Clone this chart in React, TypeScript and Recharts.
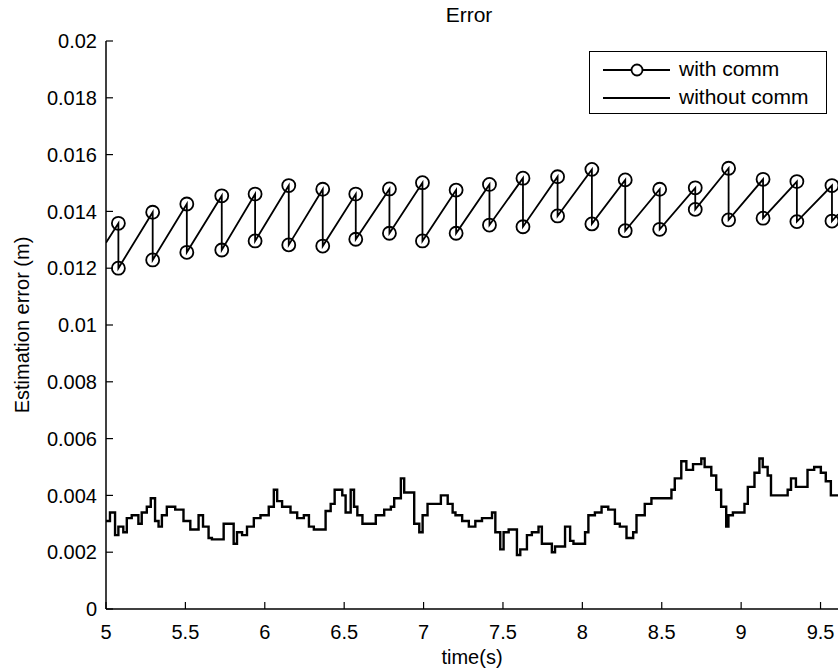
import React from "react";
import { LineChart, Line, XAxis, YAxis, Legend } from "recharts";

// sample instants of the "with comm" estimator (s) and value just before / after each update (m)
const commTimes = [5.078, 5.294, 5.509, 5.729, 5.939, 6.151, 6.365, 6.573, 6.785, 6.993, 7.205, 7.415, 7.626, 7.844, 8.06, 8.27, 8.487, 8.711, 8.921, 9.138, 9.351, 9.572];
const commPeak = [0.01358, 0.01397, 0.01426, 0.01455, 0.01461, 0.01491, 0.01478, 0.01461, 0.01479, 0.01501, 0.01475, 0.01495, 0.01517, 0.01522, 0.01548, 0.01511, 0.01478, 0.01483, 0.01552, 0.01513, 0.01505, 0.01491];
const commTrough = [0.012, 0.01229, 0.01256, 0.01264, 0.01296, 0.01282, 0.01278, 0.01302, 0.01323, 0.01296, 0.01323, 0.01352, 0.01346, 0.01384, 0.01356, 0.01332, 0.01337, 0.01407, 0.0137, 0.01376, 0.01364, 0.01366];
const commEdges = [[5.0, 0.0129], [9.61, 0.0139]];

// "without comm" staircase: step start times and levels
const noCommTimes = [
  5.0, 5.025, 5.057, 5.078, 5.109, 5.131, 5.162, 5.204, 5.225, 5.257, 5.282, 5.309, 5.331, 5.352, 5.383, 5.436,
  5.488, 5.531, 5.583, 5.611, 5.646, 5.667, 5.741, 5.804, 5.825, 5.857, 5.888, 5.931, 5.973, 6.025, 6.057, 6.078,
  6.109, 6.162, 6.204, 6.246, 6.278, 6.309, 6.383, 6.415, 6.44, 6.488, 6.509, 6.541, 6.562, 6.583, 6.615, 6.699,
  6.752, 6.794, 6.815, 6.857, 6.878, 6.941, 6.973, 6.994, 7.025, 7.109, 7.152, 7.183, 7.201, 7.243, 7.285, 7.326,
  7.368, 7.431, 7.452, 7.483, 7.504, 7.536, 7.588, 7.609, 7.651, 7.682, 7.724, 7.745, 7.808, 7.828, 7.891, 7.923,
  7.944, 8.017, 8.038, 8.079, 8.121, 8.163, 8.205, 8.236, 8.278, 8.32, 8.341, 8.393, 8.435, 8.561, 8.582, 8.623,
  8.655, 8.697, 8.749, 8.77, 8.812, 8.843, 8.874, 8.906, 8.92, 8.948, 9.021, 9.042, 9.084, 9.115, 9.136, 9.167,
  9.188, 9.293, 9.314, 9.345, 9.418, 9.46, 9.502, 9.533, 9.565, 9.61,
];
const noCommValues = [
  0.0031, 0.0034, 0.0026, 0.0029, 0.0027, 0.0032, 0.0033, 0.003, 0.0034, 0.0036, 0.0039, 0.0031, 0.0029, 0.0033, 0.0036, 0.0035,
  0.0031, 0.0028, 0.0033, 0.0029, 0.0025, 0.00245, 0.003, 0.0023, 0.0027, 0.0026, 0.0029, 0.0032, 0.0033, 0.0036, 0.0042, 0.0038,
  0.0036, 0.0034, 0.0032, 0.0033, 0.0029, 0.0028, 0.00345, 0.0037, 0.0042, 0.004, 0.0034, 0.0042, 0.0036, 0.0033, 0.003, 0.0033,
  0.0035, 0.0036, 0.0039, 0.0046, 0.0041, 0.003, 0.0027, 0.0033, 0.0037, 0.004, 0.0037, 0.0034, 0.0033, 0.0031, 0.0029, 0.0031,
  0.0032, 0.0034, 0.0027, 0.0021, 0.0027, 0.0028, 0.0019, 0.0021, 0.0026, 0.0027, 0.0029, 0.0023, 0.002, 0.0022, 0.0029, 0.0024,
  0.0023, 0.0027, 0.0033, 0.0034, 0.0036, 0.0035, 0.003, 0.0029, 0.0025, 0.0027, 0.0033, 0.0037, 0.0039, 0.0042, 0.0046, 0.0052,
  0.0049, 0.0051, 0.0053, 0.005, 0.0047, 0.0042, 0.0036, 0.0029, 0.0033, 0.0034, 0.0037, 0.0043, 0.0048, 0.0053, 0.005, 0.0047,
  0.004, 0.0042, 0.0046, 0.0043, 0.0049, 0.005, 0.0048, 0.0045, 0.004, 0.004,
];

const xTicks = [5, 5.5, 6, 6.5, 7, 7.5, 8, 8.5, 9, 9.5];
const yTicks = [0, 0.002, 0.004, 0.006, 0.008, 0.01, 0.012, 0.014, 0.016, 0.018, 0.02];

const FONT = "'Liberation Sans', Arial, Helvetica, sans-serif";

const commData = [
  { t: commEdges[0][0], v: commEdges[0][1], mark: false },
  ...commTimes.flatMap((t, i) => [
    { t, v: commPeak[i], mark: true },
    { t, v: commTrough[i], mark: true },
  ]),
  { t: commEdges[1][0], v: commEdges[1][1], mark: false },
];
const noCommData = noCommTimes.map((t, i) => ({ t, v: noCommValues[i] }));

const fmtY = (v: number) => String(Number(v.toFixed(3)));

function CircleDot(props: any) {
  const { cx, cy, payload, index } = props;
  if (!payload || !payload.mark) return <g key={`d${index}`} />;
  return <circle key={`d${index}`} cx={cx} cy={cy} r={6.5} fill="none" stroke="#000" strokeWidth={1.8} />;
}

function LegendBox() {
  return (
    <div
      style={{
        width: 236,
        height: 61,
        border: "1px solid #000",
        background: "#fff",
        fontFamily: FONT,
        fontSize: 21,
        color: "#000",
        position: "relative",
      }}
    >
      <svg width={80} height={61} style={{ position: "absolute", left: 0, top: 0 }}>
        <line x1={13} x2={82} y1={18} y2={18} stroke="#000" strokeWidth={2} />
        <circle cx={47} cy={18} r={5.5} fill="#fff" stroke="#000" strokeWidth={1.8} />
        <line x1={13} x2={82} y1={46} y2={46} stroke="#000" strokeWidth={2} />
      </svg>
      <div style={{ position: "absolute", left: 89, top: 5, lineHeight: "24px" }}>with comm</div>
      <div style={{ position: "absolute", left: 89, top: 33, lineHeight: "24px" }}>without comm</div>
    </div>
  );
}

export default function App() {
  return (
    <div style={{ position: "absolute", left: 0, top: 0, width: 838, height: 671, background: "#fff" }}>
      <div
        style={{
          position: "absolute",
          left: 0,
          width: 938,
          top: 3,
          textAlign: "center",
          fontFamily: FONT,
          fontSize: 21,
          color: "#000",
        }}
      >
        Error
      </div>
      <LineChart width={838} height={671} margin={{ top: 41, right: 0, left: 0, bottom: 0 }}>
        <XAxis
          type="number"
          dataKey="t"
          domain={[5, 9.61]}
          allowDataOverflow
          ticks={xTicks}
          tickFormatter={(v) => String(v)}
          height={62}
          tickSize={-7}
          tickMargin={23}
          axisLine={{ stroke: "#000", strokeWidth: 1.5 }}
          tickLine={{ stroke: "#000", strokeWidth: 1.2 }}
          tick={{ fill: "#000", fontSize: 20, fontFamily: FONT }}
          label={{ value: "time(s)", position: "insideBottom", offset: 7, fill: "#000", fontSize: 20, fontFamily: FONT }}
        />
        <YAxis
          type="number"
          dataKey="v"
          domain={[0, 0.02]}
          ticks={yTicks}
          tickFormatter={fmtY}
          width={106}
          tickSize={-7}
          tickMargin={16}
          axisLine={{ stroke: "#000", strokeWidth: 1.5 }}
          tickLine={{ stroke: "#000", strokeWidth: 1.2 }}
          tick={{ fill: "#000", fontSize: 20, fontFamily: FONT }}
          label={{
            value: "Estimation error (m)",
            angle: -90,
            position: "insideLeft",
            offset: 22,
            fill: "#000",
            fontSize: 20,
            fontFamily: FONT,
            style: { textAnchor: "middle" },
          }}
        />
        <Legend
          layout="horizontal"
          verticalAlign="middle"
          align="center"
          content={() => <LegendBox />}
          wrapperStyle={{ position: "absolute", left: 589, top: 51, width: 238, height: 63 }}
        />
        <Line
          data={commData}
          dataKey="v"
          type="linear"
          stroke="#000"
          strokeWidth={1.8}
          dot={<CircleDot />}
          activeDot={false}
          isAnimationActive={false}
          legendType="none"
        />
        <Line
          data={noCommData}
          dataKey="v"
          type="stepAfter"
          stroke="#000"
          strokeWidth={2.4}
          dot={false}
          activeDot={false}
          isAnimationActive={false}
          legendType="none"
        />
      </LineChart>
    </div>
  );
}
